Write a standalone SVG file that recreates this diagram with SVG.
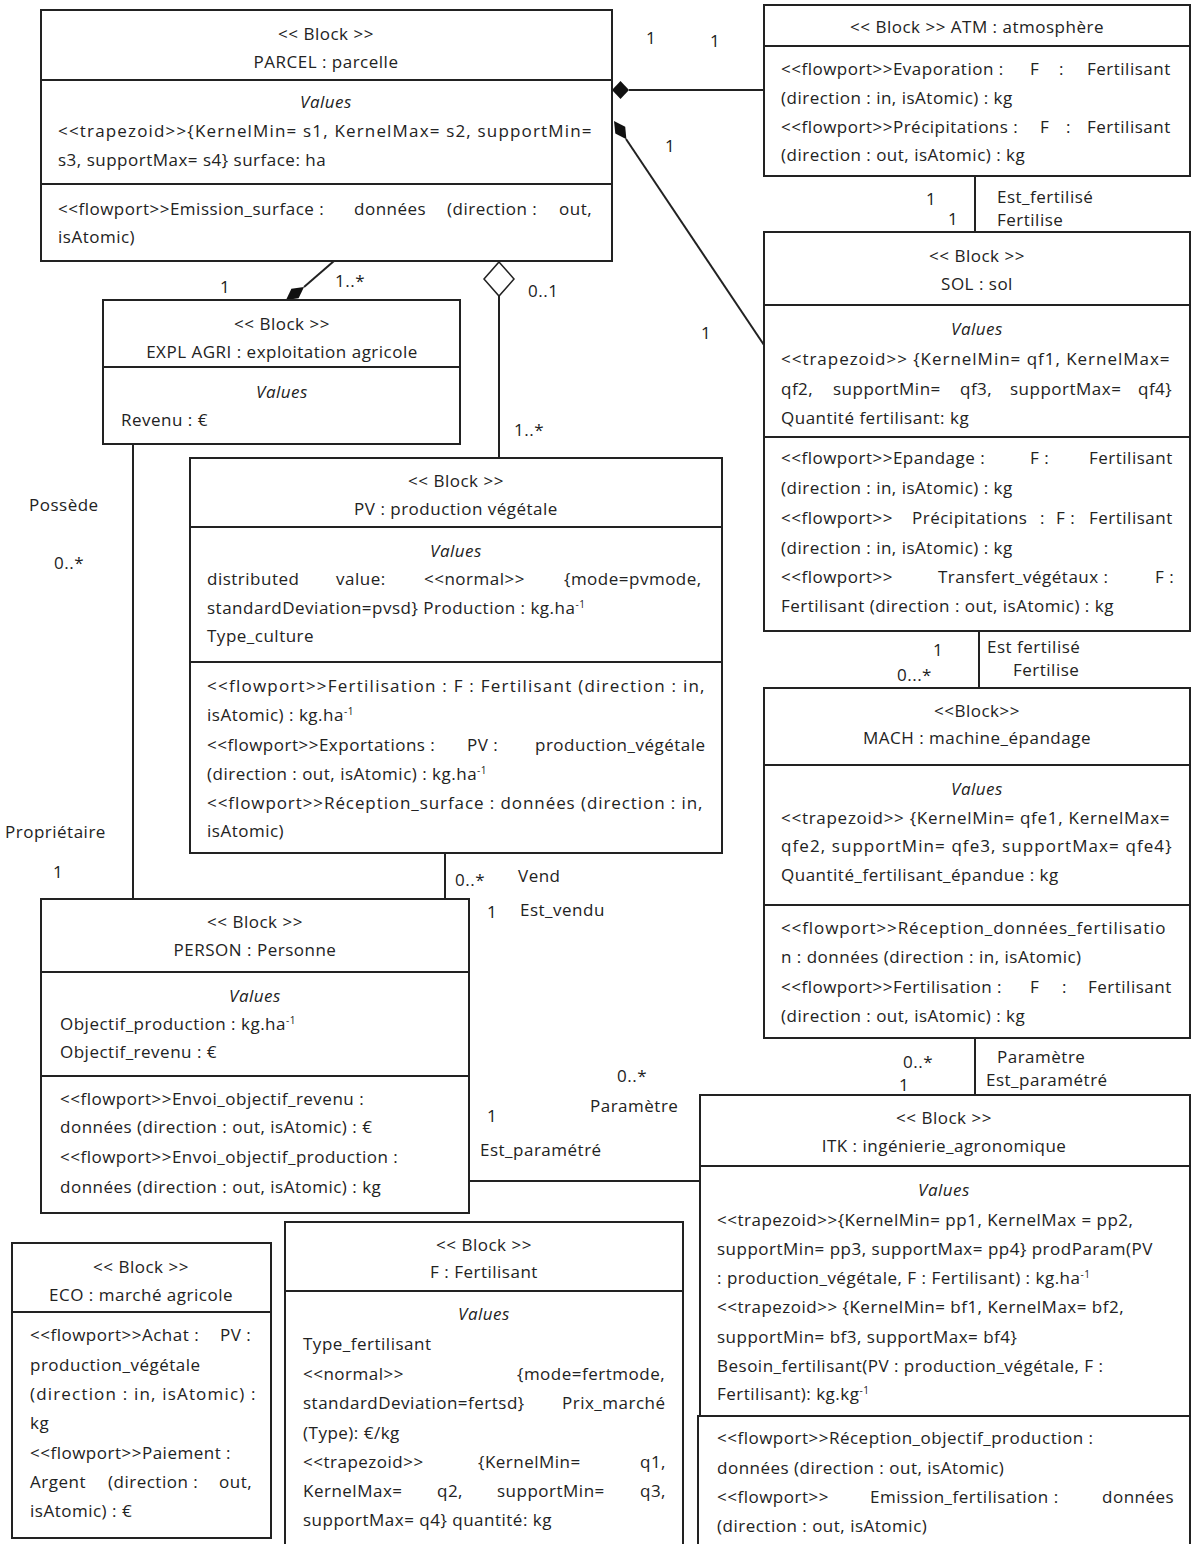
<svg xmlns="http://www.w3.org/2000/svg" width="1192" height="1544" viewBox="0 0 1192 1544">
<style>
.box{fill:#fff;stroke:#222;stroke-width:2}
.sep{stroke:#222;stroke-width:2}
.ln{stroke:#222;stroke-width:2;fill:none}
text{font-family:"Open Sans","Noto Sans",sans-serif;font-size:17px;letter-spacing:0.5px;fill:#222}
.c{text-anchor:middle}
.i{font-style:italic}
.sup{font-size:10px}
</style>
<rect width="1192" height="1544" fill="#fff"/>
<g id="connectors">
  <line class="ln" x1="629" y1="90" x2="764" y2="90"/>
  <polygon points="612,90 620.5,81 629,90 620.5,99" fill="#111"/>
  <line class="ln" x1="626" y1="139" x2="764" y2="345"/>
  <polygon points="614,121 625.2,126.7 626.4,139.2 615.3,133.5" fill="#111"/>
  <line class="ln" x1="975" y1="176" x2="975" y2="232"/>
  <line class="ln" x1="334" y1="261" x2="304" y2="287"/>
  <polygon points="286,300 291.4,288.7 304,287 298.6,298.3" fill="#111"/>
  <line class="ln" x1="499" y1="296" x2="499" y2="458"/>
  <polygon points="499,262 514,279 499,296 484,279" fill="#fff" stroke="#222" stroke-width="1.5"/>
  <line class="ln" x1="133" y1="444" x2="133" y2="899"/>
  <line class="ln" x1="445" y1="853" x2="445" y2="899"/>
  <line class="ln" x1="979" y1="631" x2="979" y2="688"/>
  <line class="ln" x1="975" y1="1038" x2="975" y2="1095"/>
  <line class="ln" x1="469" y1="1181" x2="700" y2="1181"/>
  <text x="646" y="44">1</text>
  <text x="710" y="47">1</text>
  <text x="665" y="152">1</text>
  <text x="701" y="339">1</text>
  <text x="926" y="205">1</text>
  <text x="948" y="225">1</text>
  <text x="997" y="203">Est_fertilisé</text>
  <text x="997" y="226">Fertilise</text>
  <text x="220" y="293">1</text>
  <text x="335" y="287">1..*</text>
  <text x="528" y="297">0..1</text>
  <text x="514" y="436">1..*</text>
  <text x="29" y="511">Possède</text>
  <text x="54" y="569">0..*</text>
  <text x="5" y="838">Propriétaire</text>
  <text x="53" y="878">1</text>
  <text x="455" y="886">0..*</text>
  <text x="518" y="882">Vend</text>
  <text x="487" y="918">1</text>
  <text x="520" y="916">Est_vendu</text>
  <text x="933" y="656">1</text>
  <text x="897" y="681">0...*</text>
  <text x="987" y="653">Est fertilisé</text>
  <text x="1013" y="676">Fertilise</text>
  <text x="903" y="1068">0..*</text>
  <text x="899" y="1091">1</text>
  <text x="997" y="1063">Paramètre</text>
  <text x="986" y="1086">Est_paramétré</text>
  <text x="617" y="1082">0..*</text>
  <text x="590" y="1112">Paramètre</text>
  <text x="487" y="1122">1</text>
  <text x="480" y="1156">Est_paramétré</text>
</g>
<g id="parcel">
  <rect class="box" x="41" y="10" width="571" height="251"/>
  <line class="sep" x1="41" y1="80" x2="612" y2="80"/>
  <line class="sep" x1="41" y1="184" x2="612" y2="184"/>
  <text class="c" x="326" y="40">&lt;&lt; Block &gt;&gt;</text>
  <text class="c" x="326" y="68">PARCEL : parcelle</text>
  <text class="c i" x="326" y="108">Values</text>
  <text x="58" y="137" textLength="534" lengthAdjust="spacing">&lt;&lt;trapezoid&gt;&gt;{KernelMin= s1, KernelMax= s2, supportMin=</text>
  <text x="58" y="166">s3, supportMax= s4} surface: ha</text>
  <text x="58" y="215">&lt;&lt;flowport&gt;&gt;Emission_surface :<tspan x="354">données</tspan><tspan x="447">(direction :</tspan><tspan x="559">out,</tspan></text>
  <text x="58" y="243">isAtomic)</text>
</g>
<g id="atm">
  <rect class="box" x="764" y="5" width="426" height="171"/>
  <line class="sep" x1="764" y1="46" x2="1190" y2="46"/>
  <text class="c" x="977" y="33">&lt;&lt; Block &gt;&gt; ATM : atmosphère</text>
  <text x="781" y="75">&lt;&lt;flowport&gt;&gt;Evaporation :<tspan x="1030">F</tspan><tspan x="1059">:</tspan><tspan x="1087">Fertilisant</tspan></text>
  <text x="781" y="104">(direction : in, isAtomic) : kg</text>
  <text x="781" y="133">&lt;&lt;flowport&gt;&gt;Précipitations :<tspan x="1040">F</tspan><tspan x="1066">:</tspan><tspan x="1087">Fertilisant</tspan></text>
  <text x="781" y="161">(direction : out, isAtomic) : kg</text>
</g>
<g id="sol">
  <rect class="box" x="764" y="232" width="426" height="399"/>
  <line class="sep" x1="764" y1="305" x2="1190" y2="305"/>
  <line class="sep" x1="764" y1="437" x2="1190" y2="437"/>
  <text class="c" x="977" y="262">&lt;&lt; Block &gt;&gt;</text>
  <text class="c" x="977" y="290">SOL : sol</text>
  <text class="c i" x="977" y="335">Values</text>
  <text x="781" y="365" textLength="389" lengthAdjust="spacing">&lt;&lt;trapezoid&gt;&gt; {KernelMin= qf1, KernelMax=</text>
  <text x="781" y="395">qf2,<tspan x="833">supportMin=</tspan><tspan x="960">qf3,</tspan><tspan x="1010">supportMax=</tspan><tspan x="1138">qf4}</tspan></text>
  <text x="781" y="424">Quantité  fertilisant: kg</text>
  <text x="781" y="464">&lt;&lt;flowport&gt;&gt;Epandage :<tspan x="1030">F :</tspan><tspan x="1089">Fertilisant</tspan></text>
  <text x="781" y="494">(direction : in, isAtomic) : kg</text>
  <text x="781" y="524">&lt;&lt;flowport&gt;&gt;<tspan x="912">Précipitations</tspan><tspan x="1040">:</tspan><tspan x="1056">F :</tspan><tspan x="1089">Fertilisant</tspan></text>
  <text x="781" y="554">(direction : in, isAtomic) : kg</text>
  <text x="781" y="583">&lt;&lt;flowport&gt;&gt;<tspan x="938">Transfert_végétaux :</tspan><tspan x="1155">F :</tspan></text>
  <text x="781" y="612">Fertilisant (direction : out, isAtomic) : kg</text>
</g>
<g id="mach">
  <rect class="box" x="764" y="688" width="426" height="350"/>
  <line class="sep" x1="764" y1="765" x2="1190" y2="765"/>
  <line class="sep" x1="764" y1="905" x2="1190" y2="905"/>
  <text class="c" x="977" y="717">&lt;&lt;Block&gt;&gt;</text>
  <text class="c" x="977" y="744">MACH : machine_épandage</text>
  <text class="c i" x="977" y="795">Values</text>
  <text x="781" y="824" textLength="389" lengthAdjust="spacing">&lt;&lt;trapezoid&gt;&gt; {KernelMin= qfe1, KernelMax=</text>
  <text x="781" y="852" textLength="391" lengthAdjust="spacing">qfe2, supportMin= qfe3, supportMax= qfe4}</text>
  <text x="781" y="881">Quantité_fertilisant_épandue : kg</text>
  <text x="781" y="934" textLength="385" lengthAdjust="spacing">&lt;&lt;flowport&gt;&gt;Réception_données_fertilisatio</text>
  <text x="781" y="963">n : données (direction : in, isAtomic)</text>
  <text x="781" y="993">&lt;&lt;flowport&gt;&gt;Fertilisation :<tspan x="1030">F</tspan><tspan x="1062">:</tspan><tspan x="1088">Fertilisant</tspan></text>
  <text x="781" y="1022">(direction : out, isAtomic) : kg</text>
</g>
<g id="itk">
  <rect class="box" x="700" y="1095" width="490" height="321"/>
  <rect class="box" x="698" y="1416" width="492" height="140"/>
  <line class="sep" x1="700" y1="1166" x2="1190" y2="1166"/>
  <text class="c" x="944" y="1124">&lt;&lt; Block &gt;&gt;</text>
  <text class="c" x="944" y="1152">ITK : ingénierie_agronomique</text>
  <text class="c i" x="944" y="1196">Values</text>
  <text x="717" y="1226">&lt;&lt;trapezoid&gt;&gt;{KernelMin= pp1, KernelMax = pp2,</text>
  <text x="717" y="1255">supportMin= pp3, supportMax= pp4}  prodParam(PV</text>
  <text x="717" y="1284">: production_végétale, F : Fertilisant) : kg.ha<tspan class="sup" dy="-6">-1</tspan></text>
  <text x="717" y="1313">&lt;&lt;trapezoid&gt;&gt; {KernelMin= bf1, KernelMax= bf2,</text>
  <text x="717" y="1343">supportMin= bf3, supportMax= bf4}</text>
  <text x="717" y="1372">Besoin_fertilisant(PV : production_végétale, F :</text>
  <text x="717" y="1400">Fertilisant): kg.kg<tspan class="sup" dy="-6">-1</tspan></text>
  <text x="717" y="1444">&lt;&lt;flowport&gt;&gt;Réception_objectif_production :</text>
  <text x="717" y="1474">données (direction : out, isAtomic)</text>
  <text x="717" y="1503">&lt;&lt;flowport&gt;&gt;<tspan x="870">Emission_fertilisation :</tspan><tspan x="1102">données</tspan></text>
  <text x="717" y="1532">(direction : out, isAtomic)</text>
</g>
<g id="expl_agri">
  <rect class="box" x="103" y="300" width="357" height="144"/>
  <line class="sep" x1="103" y1="367" x2="460" y2="367"/>
  <text class="c" x="282" y="330">&lt;&lt; Block &gt;&gt;</text>
  <text class="c" x="282" y="358">EXPL  AGRI : exploitation  agricole</text>
  <text class="c i" x="282" y="398">Values</text>
  <text x="121" y="426">Revenu : €</text>
</g>
<g id="pv">
  <rect class="box" x="190" y="458" width="532" height="395"/>
  <line class="sep" x1="190" y1="527" x2="722" y2="527"/>
  <line class="sep" x1="190" y1="662" x2="722" y2="662"/>
  <text class="c" x="456" y="487">&lt;&lt; Block &gt;&gt;</text>
  <text class="c" x="456" y="515">PV : production  végétale</text>
  <text class="c i" x="456" y="557">Values</text>
  <text x="207" y="585">distributed<tspan x="336">value:</tspan><tspan x="424">&lt;&lt;normal&gt;&gt;</tspan><tspan x="564">{mode=pvmode,</tspan></text>
  <text x="207" y="614">standardDeviation=pvsd}  Production : kg.ha<tspan class="sup" dy="-6">-1</tspan></text>
  <text x="207" y="642">Type_culture</text>
  <text x="207" y="692" textLength="498" lengthAdjust="spacing">&lt;&lt;flowport&gt;&gt;Fertilisation : F : Fertilisant (direction : in,</text>
  <text x="207" y="721">isAtomic) : kg.ha<tspan class="sup" dy="-6">-1</tspan></text>
  <text x="207" y="751">&lt;&lt;flowport&gt;&gt;Exportations :<tspan x="467">PV :</tspan><tspan x="535">production_végétale</tspan></text>
  <text x="207" y="780">(direction : out, isAtomic) : kg.ha<tspan class="sup" dy="-6">-1</tspan></text>
  <text x="207" y="809" textLength="496" lengthAdjust="spacing">&lt;&lt;flowport&gt;&gt;Réception_surface : données (direction : in,</text>
  <text x="207" y="837">isAtomic)</text>
</g>
<g id="person">
  <rect class="box" x="41" y="899" width="428" height="314"/>
  <line class="sep" x1="41" y1="972" x2="469" y2="972"/>
  <line class="sep" x1="41" y1="1076" x2="469" y2="1076"/>
  <text class="c" x="255" y="928">&lt;&lt; Block &gt;&gt;</text>
  <text class="c" x="255" y="956">PERSON : Personne</text>
  <text class="c i" x="255" y="1002">Values</text>
  <text x="60" y="1030">Objectif_production : kg.ha<tspan class="sup" dy="-6">-1</tspan></text>
  <text x="60" y="1058">Objectif_revenu : €</text>
  <text x="60" y="1105">&lt;&lt;flowport&gt;&gt;Envoi_objectif_revenu :</text>
  <text x="60" y="1133">données (direction : out, isAtomic) : €</text>
  <text x="60" y="1163">&lt;&lt;flowport&gt;&gt;Envoi_objectif_production :</text>
  <text x="60" y="1193">données (direction : out, isAtomic) : kg</text>
</g>
<g id="eco">
  <rect class="box" x="12" y="1243" width="259" height="295"/>
  <line class="sep" x1="12" y1="1312" x2="271" y2="1312"/>
  <text class="c" x="141" y="1273">&lt;&lt; Block &gt;&gt;</text>
  <text class="c" x="141" y="1301">ECO : marché  agricole</text>
  <text x="30" y="1341">&lt;&lt;flowport&gt;&gt;Achat :<tspan x="220">PV :</tspan></text>
  <text x="30" y="1371">production_végétale</text>
  <text x="30" y="1400" textLength="226" lengthAdjust="spacing">(direction : in, isAtomic) :</text>
  <text x="30" y="1429">kg</text>
  <text x="30" y="1459">&lt;&lt;flowport&gt;&gt;Paiement :</text>
  <text x="30" y="1488">Argent<tspan x="108">(direction :</tspan><tspan x="219">out,</tspan></text>
  <text x="30" y="1517">isAtomic) : €</text>
</g>
<g id="fertilisant">
  <rect class="box" x="285" y="1222" width="398" height="340"/>
  <line class="sep" x1="285" y1="1291" x2="683" y2="1291"/>
  <text class="c" x="484" y="1251">&lt;&lt; Block &gt;&gt;</text>
  <text class="c" x="484" y="1278">F : Fertilisant</text>
  <text class="c i" x="484" y="1320">Values</text>
  <text x="303" y="1350">Type_fertilisant</text>
  <text x="303" y="1380">&lt;&lt;normal&gt;&gt;<tspan x="517">{mode=fertmode,</tspan></text>
  <text x="303" y="1409">standardDeviation=fertsd}<tspan x="562">Prix_marché</tspan></text>
  <text x="303" y="1439">(Type): €/kg</text>
  <text x="303" y="1468">&lt;&lt;trapezoid&gt;&gt;<tspan x="478">{KernelMin=</tspan><tspan x="640">q1,</tspan></text>
  <text x="303" y="1497">KernelMax=<tspan x="437">q2,</tspan><tspan x="497">supportMin=</tspan><tspan x="640">q3,</tspan></text>
  <text x="303" y="1526">supportMax= q4}  quantité: kg</text>
</g>
</svg>
